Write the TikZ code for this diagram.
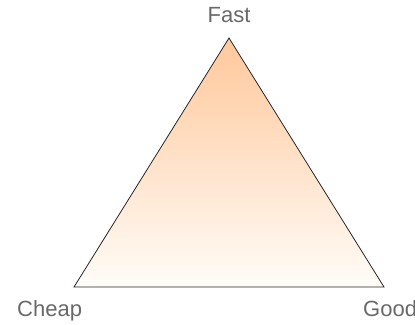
\documentclass[tikz,border=0pt]{standalone}
\usepackage{fontspec}
\setmainfont{Liberation Sans}
\usetikzlibrary{positioning}
\definecolor{tPeach}{RGB}{255,200,155}
\definecolor{tCream}{RGB}{255,252,248}
\definecolor{tLabel}{RGB}{105,105,105}

\begin{document}
\begin{tikzpicture}[
  x=1pt, y=1pt,
  every node/.style={font=\fontsize{22}{26}\selectfont, align=center},
  corner/.style={
    text=tLabel,
    inner sep=0pt,
    anchor=base
  },
  edge/.style={draw=black!85, line width=0.8pt, line join=miter}
]
\useasboundingbox (0,0) rectangle (415,324);

\coordinate (apex)  at (229,286);
\coordinate (left)  at (74,37);
\coordinate (right) at (384,37);

\node[corner] (fast) at (229,301) {Fast};
\node[corner, anchor=base west] (cheap) at (17,7) {Cheap};
\node[corner, anchor=base west] (good) at (363,7) {Good};

\draw[edge, top color=tPeach, bottom color=tCream] (apex) -- (right) -- (left) -- cycle;

\end{tikzpicture}
\end{document}
